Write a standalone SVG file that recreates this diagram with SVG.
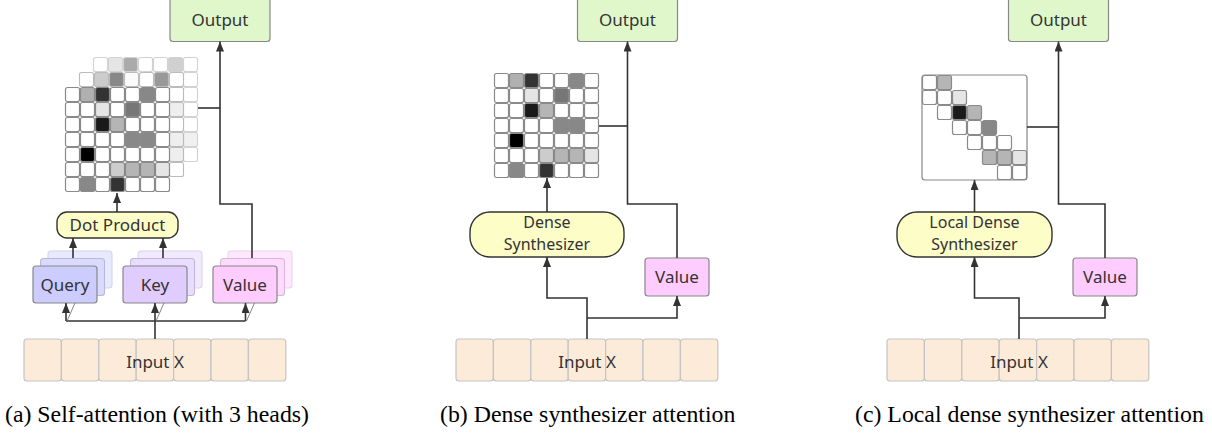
<svg xmlns="http://www.w3.org/2000/svg" width="1212" height="433" viewBox="0 0 1212 433">
<style>
text{font-family:"Noto Sans","Open Sans","DejaVu Sans",sans-serif;font-size:17px;fill:#333;text-anchor:middle}
text.two{font-size:16px}
.cap{font-family:"Liberation Serif","Times New Roman",serif;font-size:23.8px;fill:#000;text-anchor:start}
.out{fill:#e0f7cb;stroke:#888;stroke-width:1.2}
.prod{fill:#fdfdc8;stroke:#333;stroke-width:1.4}
.in{fill:#fdebd9;stroke:#c4c4c4;stroke-width:1.2}
.q{fill:#ccccff;stroke:#888;stroke-width:1.2}
.q2{fill:#dadaff;stroke:#b8b8d8;stroke-width:1.1}
.q3{fill:#e8e8ff;stroke:#d4d4e8;stroke-width:1.1}
.k{fill:#e0ccff;stroke:#888;stroke-width:1.2}
.k2{fill:#e8dcff;stroke:#c4b8d8;stroke-width:1.1}
.k3{fill:#f1eaff;stroke:#dcd4e8;stroke-width:1.1}
.v{fill:#ffccff;stroke:#888;stroke-width:1.2}
.v2{fill:#ffdaff;stroke:#d8b8d8;stroke-width:1.1}
.v3{fill:#ffe8ff;stroke:#e8d4e8;stroke-width:1.1}
.c rect{stroke:#8a8a8a;stroke-width:1.2;fill:#fff}
.c2 rect{stroke:#bbb;stroke-width:1.1;fill:#fff}
.c3 rect{stroke:#d2d2d2;stroke-width:1.1;fill:#fff}
.frame{fill:#fff;stroke:#888;stroke-width:1.2}
#connectors path{fill:none;stroke:#333;stroke-width:1.6}
#connectors path.thin{stroke:#777;stroke-width:0.9}
</style>
<defs>
<marker id="ah" markerUnits="userSpaceOnUse" markerWidth="10" markerHeight="8" refX="10" refY="4" orient="auto">
<path d="M0,0 L10,4 L0,8 z" fill="#333"/>
</marker>
</defs>

<!-- ================= Panel (a) ================= -->
<g id="a-output"><rect class="out" x="170" y="-3" width="100" height="44.5" rx="3"/><text x="220" y="26">Output</text></g>

<g id="a-attention-grid">
<g class="c3" transform="translate(93,57)">
<rect x="0.5" y="0.5" width="14" height="14" rx="2"/>
<rect x="15.5" y="0.5" width="14" height="14" rx="2" style="fill:#e5e5e5"/>
<rect x="30.5" y="0.5" width="14" height="14" rx="2" style="fill:#aaa"/>
<rect x="45.5" y="0.5" width="14" height="14" rx="2"/>
<rect x="60.5" y="0.5" width="14" height="14" rx="2"/>
<rect x="75.5" y="0.5" width="14" height="14" rx="2" style="fill:#d0d0d0"/>
<rect x="90.5" y="0.5" width="14" height="14" rx="2"/>
<rect x="90.5" y="15.5" width="14" height="14" rx="2"/>
<rect x="90.5" y="30.5" width="14" height="14" rx="2"/>
<rect x="90.5" y="45.5" width="14" height="14" rx="2"/>
<rect x="90.5" y="60.5" width="14" height="14" rx="2"/>
<rect x="90.5" y="75.5" width="14" height="14" rx="2" style="fill:#f0f0f0"/>
<rect x="90.5" y="90.5" width="14" height="14" rx="2"/>
</g>
<g class="c2" transform="translate(79,72)">
<rect x="0.5" y="0.5" width="14" height="14" rx="2"/>
<rect x="15.5" y="0.5" width="14" height="14" rx="2" style="fill:#ccc"/>
<rect x="30.5" y="0.5" width="14" height="14" rx="2" style="fill:#888"/>
<rect x="45.5" y="0.5" width="14" height="14" rx="2" style="fill:#fafafa"/>
<rect x="60.5" y="0.5" width="14" height="14" rx="2"/>
<rect x="75.5" y="0.5" width="14" height="14" rx="2" style="fill:#999"/>
<rect x="90.5" y="0.5" width="14" height="14" rx="2"/>
<rect x="90.5" y="15.5" width="14" height="14" rx="2"/>
<rect x="90.5" y="30.5" width="14" height="14" rx="2" style="fill:#eee"/>
<rect x="90.5" y="45.5" width="14" height="14" rx="2"/>
<rect x="90.5" y="60.5" width="14" height="14" rx="2" style="fill:#eee"/>
<rect x="90.5" y="75.5" width="14" height="14" rx="2" style="fill:#eee"/>
<rect x="90.5" y="90.5" width="14" height="14" rx="2"/>
</g>
<g class="c" transform="translate(65,87)">
<rect x="0.5" y="0.5" width="14" height="14" rx="2"/><rect x="15.5" y="0.5" width="14" height="14" rx="2" style="fill:#b0b0b0"/><rect x="30.5" y="0.5" width="14" height="14" rx="2" style="fill:#333"/><rect x="45.5" y="0.5" width="14" height="14" rx="2"/><rect x="60.5" y="0.5" width="14" height="14" rx="2"/><rect x="75.5" y="0.5" width="14" height="14" rx="2" style="fill:#888"/><rect x="90.5" y="0.5" width="14" height="14" rx="2"/>
<rect x="0.5" y="15.5" width="14" height="14" rx="2"/><rect x="15.5" y="15.5" width="14" height="14" rx="2"/><rect x="30.5" y="15.5" width="14" height="14" rx="2" style="fill:#e5e5e5"/><rect x="45.5" y="15.5" width="14" height="14" rx="2"/><rect x="60.5" y="15.5" width="14" height="14" rx="2" style="fill:#777"/><rect x="75.5" y="15.5" width="14" height="14" rx="2"/><rect x="90.5" y="15.5" width="14" height="14" rx="2"/>
<rect x="0.5" y="30.5" width="14" height="14" rx="2"/><rect x="15.5" y="30.5" width="14" height="14" rx="2"/><rect x="30.5" y="30.5" width="14" height="14" rx="2" style="fill:#1a1a1a"/><rect x="45.5" y="30.5" width="14" height="14" rx="2" style="fill:#b5b5b5"/><rect x="60.5" y="30.5" width="14" height="14" rx="2"/><rect x="75.5" y="30.5" width="14" height="14" rx="2"/><rect x="90.5" y="30.5" width="14" height="14" rx="2"/>
<rect x="0.5" y="45.5" width="14" height="14" rx="2"/><rect x="15.5" y="45.5" width="14" height="14" rx="2"/><rect x="30.5" y="45.5" width="14" height="14" rx="2"/><rect x="45.5" y="45.5" width="14" height="14" rx="2"/><rect x="60.5" y="45.5" width="14" height="14" rx="2" style="fill:#888"/><rect x="75.5" y="45.5" width="14" height="14" rx="2" style="fill:#888"/><rect x="90.5" y="45.5" width="14" height="14" rx="2"/>
<rect x="0.5" y="60.5" width="14" height="14" rx="2"/><rect x="15.5" y="60.5" width="14" height="14" rx="2" style="fill:#000"/><rect x="30.5" y="60.5" width="14" height="14" rx="2"/><rect x="45.5" y="60.5" width="14" height="14" rx="2"/><rect x="60.5" y="60.5" width="14" height="14" rx="2"/><rect x="75.5" y="60.5" width="14" height="14" rx="2"/><rect x="90.5" y="60.5" width="14" height="14" rx="2"/>
<rect x="0.5" y="75.5" width="14" height="14" rx="2"/><rect x="15.5" y="75.5" width="14" height="14" rx="2"/><rect x="30.5" y="75.5" width="14" height="14" rx="2"/><rect x="45.5" y="75.5" width="14" height="14" rx="2" style="fill:#ccc"/><rect x="60.5" y="75.5" width="14" height="14" rx="2" style="fill:#b5b5b5"/><rect x="75.5" y="75.5" width="14" height="14" rx="2" style="fill:#b5b5b5"/><rect x="90.5" y="75.5" width="14" height="14" rx="2" style="fill:#e5e5e5"/>
<rect x="0.5" y="90.5" width="14" height="14" rx="2"/><rect x="15.5" y="90.5" width="14" height="14" rx="2" style="fill:#888"/><rect x="30.5" y="90.5" width="14" height="14" rx="2"/><rect x="45.5" y="90.5" width="14" height="14" rx="2" style="fill:#333"/><rect x="60.5" y="90.5" width="14" height="14" rx="2"/><rect x="75.5" y="90.5" width="14" height="14" rx="2"/><rect x="90.5" y="90.5" width="14" height="14" rx="2"/>
</g>
</g>

<g id="a-dot-product"><rect class="prod" x="57" y="212" width="121" height="26" rx="10"/><text x="117.5" y="231">Dot Product</text></g>

<g id="a-query">
<rect class="q3" x="48" y="251" width="64" height="37" rx="3"/>
<rect class="q2" x="40.5" y="258.5" width="64" height="37" rx="3"/>
<rect class="q" x="33" y="266" width="64" height="37" rx="3"/>
<text x="65" y="291">Query</text>
</g>
<g id="a-key">
<rect class="k3" x="138" y="251" width="64" height="37" rx="3"/>
<rect class="k2" x="130.5" y="258.5" width="64" height="37" rx="3"/>
<rect class="k" x="123" y="266" width="64" height="37" rx="3"/>
<text x="155" y="291">Key</text>
</g>
<g id="a-value">
<rect class="v3" x="228" y="251" width="64" height="37" rx="3"/>
<rect class="v2" x="220.5" y="258.5" width="64" height="37" rx="3"/>
<rect class="v" x="213" y="266" width="64" height="37" rx="3"/>
<text x="245" y="291">Value</text>
</g>

<g id="a-input">
<rect class="in" x="24" y="339" width="37.4" height="42" rx="3"/>
<rect class="in" x="61.4" y="339" width="37.4" height="42" rx="3"/>
<rect class="in" x="98.8" y="339" width="37.4" height="42" rx="3"/>
<rect class="in" x="136.2" y="339" width="37.4" height="42" rx="3"/>
<rect class="in" x="173.6" y="339" width="37.4" height="42" rx="3"/>
<rect class="in" x="211" y="339" width="37.4" height="42" rx="3"/>
<rect class="in" x="248.4" y="339" width="37.4" height="42" rx="3"/>
<text x="155" y="368">Input X</text>
</g>

<!-- ================= Panel (b) ================= -->
<g id="b-output"><rect class="out" x="577.5" y="-3" width="100" height="44.5" rx="3"/><text x="627.5" y="26">Output</text></g>

<g id="b-attention-grid" class="c" transform="translate(494,73)">
<rect x="0.5" y="0.5" width="14" height="14" rx="2"/><rect x="15.5" y="0.5" width="14" height="14" rx="2" style="fill:#b0b0b0"/><rect x="30.5" y="0.5" width="14" height="14" rx="2" style="fill:#333"/><rect x="45.5" y="0.5" width="14" height="14" rx="2"/><rect x="60.5" y="0.5" width="14" height="14" rx="2"/><rect x="75.5" y="0.5" width="14" height="14" rx="2" style="fill:#888"/><rect x="90.5" y="0.5" width="14" height="14" rx="2"/>
<rect x="0.5" y="15.5" width="14" height="14" rx="2"/><rect x="15.5" y="15.5" width="14" height="14" rx="2"/><rect x="30.5" y="15.5" width="14" height="14" rx="2" style="fill:#e5e5e5"/><rect x="45.5" y="15.5" width="14" height="14" rx="2"/><rect x="60.5" y="15.5" width="14" height="14" rx="2" style="fill:#777"/><rect x="75.5" y="15.5" width="14" height="14" rx="2"/><rect x="90.5" y="15.5" width="14" height="14" rx="2"/>
<rect x="0.5" y="30.5" width="14" height="14" rx="2"/><rect x="15.5" y="30.5" width="14" height="14" rx="2"/><rect x="30.5" y="30.5" width="14" height="14" rx="2" style="fill:#1a1a1a"/><rect x="45.5" y="30.5" width="14" height="14" rx="2" style="fill:#b5b5b5"/><rect x="60.5" y="30.5" width="14" height="14" rx="2"/><rect x="75.5" y="30.5" width="14" height="14" rx="2"/><rect x="90.5" y="30.5" width="14" height="14" rx="2"/>
<rect x="0.5" y="45.5" width="14" height="14" rx="2"/><rect x="15.5" y="45.5" width="14" height="14" rx="2"/><rect x="30.5" y="45.5" width="14" height="14" rx="2"/><rect x="45.5" y="45.5" width="14" height="14" rx="2"/><rect x="60.5" y="45.5" width="14" height="14" rx="2" style="fill:#888"/><rect x="75.5" y="45.5" width="14" height="14" rx="2" style="fill:#888"/><rect x="90.5" y="45.5" width="14" height="14" rx="2"/>
<rect x="0.5" y="60.5" width="14" height="14" rx="2"/><rect x="15.5" y="60.5" width="14" height="14" rx="2" style="fill:#000"/><rect x="30.5" y="60.5" width="14" height="14" rx="2"/><rect x="45.5" y="60.5" width="14" height="14" rx="2"/><rect x="60.5" y="60.5" width="14" height="14" rx="2"/><rect x="75.5" y="60.5" width="14" height="14" rx="2"/><rect x="90.5" y="60.5" width="14" height="14" rx="2"/>
<rect x="0.5" y="75.5" width="14" height="14" rx="2"/><rect x="15.5" y="75.5" width="14" height="14" rx="2"/><rect x="30.5" y="75.5" width="14" height="14" rx="2"/><rect x="45.5" y="75.5" width="14" height="14" rx="2" style="fill:#ccc"/><rect x="60.5" y="75.5" width="14" height="14" rx="2" style="fill:#b5b5b5"/><rect x="75.5" y="75.5" width="14" height="14" rx="2" style="fill:#b5b5b5"/><rect x="90.5" y="75.5" width="14" height="14" rx="2" style="fill:#e5e5e5"/>
<rect x="0.5" y="90.5" width="14" height="14" rx="2"/><rect x="15.5" y="90.5" width="14" height="14" rx="2" style="fill:#888"/><rect x="30.5" y="90.5" width="14" height="14" rx="2"/><rect x="45.5" y="90.5" width="14" height="14" rx="2" style="fill:#333"/><rect x="60.5" y="90.5" width="14" height="14" rx="2"/><rect x="75.5" y="90.5" width="14" height="14" rx="2"/><rect x="90.5" y="90.5" width="14" height="14" rx="2"/>
</g>

<g id="b-dense-synthesizer"><rect class="prod" x="470" y="212" width="154" height="45" rx="20"/><text class="two" x="547" y="228">Dense</text><text class="two" x="547" y="250">Synthesizer</text></g>

<g id="b-value"><rect class="v" x="645" y="258" width="64" height="38" rx="3"/><text x="677" y="283">Value</text></g>

<g id="b-input">
<rect class="in" x="456" y="339" width="37.4" height="42" rx="3"/>
<rect class="in" x="493.4" y="339" width="37.4" height="42" rx="3"/>
<rect class="in" x="530.8" y="339" width="37.4" height="42" rx="3"/>
<rect class="in" x="568.2" y="339" width="37.4" height="42" rx="3"/>
<rect class="in" x="605.6" y="339" width="37.4" height="42" rx="3"/>
<rect class="in" x="643" y="339" width="37.4" height="42" rx="3"/>
<rect class="in" x="680.4" y="339" width="37.4" height="42" rx="3"/>
<text x="587" y="368">Input X</text>
</g>

<!-- ================= Panel (c) ================= -->
<g id="c-output"><rect class="out" x="1008.5" y="-3" width="100" height="44.5" rx="3"/><text x="1058.5" y="26">Output</text></g>

<g id="c-attention-grid">
<rect class="frame" x="922" y="75" width="105" height="105" rx="3"/>
<g class="c" transform="translate(922,75)">
<rect x="0.5" y="0.5" width="14" height="14" rx="2"/><rect x="15.5" y="0.5" width="14" height="14" rx="2" style="fill:#b5b5b5"/>
<rect x="0.5" y="15.5" width="14" height="14" rx="2"/><rect x="15.5" y="15.5" width="14" height="14" rx="2"/><rect x="30.5" y="15.5" width="14" height="14" rx="2" style="fill:#e5e5e5"/>
<rect x="15.5" y="30.5" width="14" height="14" rx="2"/><rect x="30.5" y="30.5" width="14" height="14" rx="2" style="fill:#1a1a1a"/><rect x="45.5" y="30.5" width="14" height="14" rx="2" style="fill:#b5b5b5"/>
<rect x="30.5" y="45.5" width="14" height="14" rx="2"/><rect x="45.5" y="45.5" width="14" height="14" rx="2"/><rect x="60.5" y="45.5" width="14" height="14" rx="2" style="fill:#888"/>
<rect x="45.5" y="60.5" width="14" height="14" rx="2"/><rect x="60.5" y="60.5" width="14" height="14" rx="2"/><rect x="75.5" y="60.5" width="14" height="14" rx="2"/>
<rect x="60.5" y="75.5" width="14" height="14" rx="2" style="fill:#b5b5b5"/><rect x="75.5" y="75.5" width="14" height="14" rx="2" style="fill:#b5b5b5"/><rect x="90.5" y="75.5" width="14" height="14" rx="2" style="fill:#e5e5e5"/>
<rect x="75.5" y="90.5" width="14" height="14" rx="2"/><rect x="90.5" y="90.5" width="14" height="14" rx="2"/>
</g>
</g>

<g id="c-local-dense-synthesizer"><rect class="prod" x="897" y="212" width="155" height="45" rx="20"/><text class="two" x="974.5" y="228">Local Dense</text><text class="two" x="974.5" y="250">Synthesizer</text></g>

<g id="c-value"><rect class="v" x="1073" y="258" width="64" height="38" rx="3"/><text x="1105" y="283">Value</text></g>

<g id="c-input">
<rect class="in" x="887" y="339" width="37.4" height="42" rx="3"/>
<rect class="in" x="924.4" y="339" width="37.4" height="42" rx="3"/>
<rect class="in" x="961.8" y="339" width="37.4" height="42" rx="3"/>
<rect class="in" x="999.2" y="339" width="37.4" height="42" rx="3"/>
<rect class="in" x="1036.6" y="339" width="37.4" height="42" rx="3"/>
<rect class="in" x="1074" y="339" width="37.4" height="42" rx="3"/>
<rect class="in" x="1111.4" y="339" width="37.4" height="42" rx="3"/>
<text x="1019" y="368">Input X</text>
</g>

<!-- ================= Connectors ================= -->
<g id="connectors">
<!-- (a) -->
<path d="M252,258 V204 H220 V41.5" marker-end="url(#ah)"/>
<path d="M198,108 H220"/>
<path d="M117,212 V193" marker-end="url(#ah)"/>
<path d="M73,258 V238" marker-end="url(#ah)"/>
<path d="M163,258 V238" marker-end="url(#ah)"/>
<path d="M66,321 H245.5"/>
<path d="M66,321 V303" marker-end="url(#ah)"/>
<path d="M245.5,321 V303" marker-end="url(#ah)"/>
<path d="M155,339 V303" marker-end="url(#ah)"/>
<path class="thin" d="M67,321 L75,303"/>
<path class="thin" d="M156,321 L164,303"/>
<path class="thin" d="M246.5,321 L254.5,303"/>
<!-- (b) -->
<path d="M677,258 V204 H627.5 V41.5" marker-end="url(#ah)"/>
<path d="M599,126 H627.5"/>
<path d="M547,212 V178" marker-end="url(#ah)"/>
<path d="M587,339 V298 H547 V257" marker-end="url(#ah)"/>
<path d="M587,318 H677 V296" marker-end="url(#ah)"/>
<!-- (c) -->
<path d="M1105,258 V204 H1058.5 V41.5" marker-end="url(#ah)"/>
<path d="M1027,127 H1058.5"/>
<path d="M974.5,212 V180" marker-end="url(#ah)"/>
<path d="M1019,339 V298 H974.5 V257" marker-end="url(#ah)"/>
<path d="M1019,318 H1105 V296" marker-end="url(#ah)"/>
</g>

<!-- ================= Captions ================= -->
<text class="cap" x="5" y="422">(a) Self-attention (with 3 heads)</text>
<text class="cap" x="440" y="422">(b) Dense synthesizer attention</text>
<text class="cap" x="855" y="422">(c) Local dense synthesizer attention</text>
</svg>
